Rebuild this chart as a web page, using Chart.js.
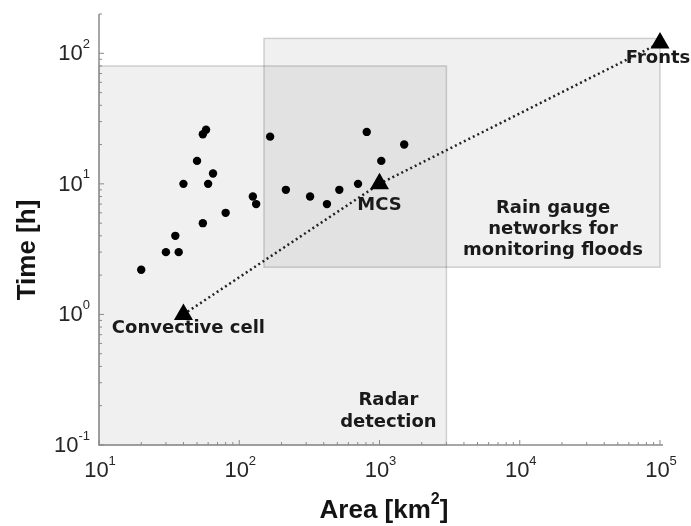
<!DOCTYPE html>
<html>
<head>
<meta charset="utf-8">
<script src="https://cdn.jsdelivr.net/npm/chart.js@4/dist/chart.umd.min.js"></script>
<style>
  body { margin: 0; background: #fff; }
</style>
</head>
<body>
<canvas id="chart" width="691" height="526"></canvas>
<script>
// Observed events (area in km2, duration in h)
const areaKm2 = [20, 30, 37, 35, 55, 80, 40, 60, 65, 50, 55, 58, 125, 132, 166, 215, 320, 422, 517, 703, 811, 1030, 1500];
const timeH = [2.2, 3, 3, 4, 5, 6, 10, 10, 12, 15, 24, 26, 8, 7, 23, 9, 8, 7, 9, 10, 25, 15, 20];

// Typical phenomena
const phenomena = ['Convective cell', 'MCS', 'Fronts'];
const phenArea = [40, 1000, 100000];
const phenTime = [1, 10, 120];

// Observation regions
const radarArea = [10, 3000];
const radarTime = [0.1, 80];
const gaugeArea = [150, 100000];
const gaugeTime = [2.3, 130];

// Axis ticks
const xTicks = [10, 100, 1000, 10000, 100000];
const yTicks = [0.1, 1, 10, 100];
const xExp = ['1', '2', '3', '4', '5'];
const yExp = ['-1', '0', '1', '2'];

const LABEL_FONT = '"Liberation Sans", Arial, sans-serif';
const NOTE_FONT = 'bold 18px "DejaVu Sans", Verdana, sans-serif';

function drawPow(ctx, exp, x, y, align) {
    ctx.font = '22px ' + LABEL_FONT;
    const wb = ctx.measureText('10').width;
    ctx.font = '13px ' + LABEL_FONT;
    const we = ctx.measureText(exp).width;
    const left = align === 'right' ? x - wb - we : x - (wb + we) / 2;
    ctx.textAlign = 'left';
    ctx.textBaseline = 'middle';
    ctx.font = '22px ' + LABEL_FONT;
    ctx.fillText('10', left, y);
    ctx.font = '13px ' + LABEL_FONT;
    ctx.fillText(exp, left + wb, y - 10);
}

const decor = {
    id: 'decor',
    beforeDatasetsDraw(chart) {
        const { ctx, scales: { x, y } } = chart;
        ctx.save();
        [[radarArea, radarTime], [gaugeArea, gaugeTime]].forEach(([a, t]) => {
            const x0 = x.getPixelForValue(a[0]), x1 = x.getPixelForValue(a[1]);
            const y0 = y.getPixelForValue(t[1]), y1 = y.getPixelForValue(t[0]);
            ctx.fillStyle = 'rgba(0,0,0,0.06)';
            ctx.fillRect(x0, y0, x1 - x0, y1 - y0);
            ctx.strokeStyle = 'rgba(0,0,0,0.17)';
            ctx.lineWidth = 1.5;
            ctx.strokeRect(x0, y0, x1 - x0, y1 - y0);
        });
        ctx.restore();
    },
    afterDatasetsDraw(chart) {
        const { ctx, chartArea: ca, scales: { x, y } } = chart;
        ctx.save();

        // axes lines
        ctx.strokeStyle = '#8a8a8a';
        ctx.lineWidth = 1.5;
        ctx.beginPath();
        ctx.moveTo(ca.left, ca.top);
        ctx.lineTo(ca.left, ca.bottom);
        ctx.lineTo(ca.right + 3, ca.bottom);
        ctx.stroke();

        // inward ticks, major and minor
        ctx.lineWidth = 1;
        ctx.beginPath();
        xTicks.forEach((v, i) => {
            for (let m = 1; m <= 9; m++) {
                if (i === xTicks.length - 1 && m > 1) break;
                const px = x.getPixelForValue(v * m);
                const len = m === 1 ? 5 : 3;
                ctx.moveTo(px, ca.bottom);
                ctx.lineTo(px, ca.bottom - len);
            }
        });
        yTicks.forEach((v) => {
            for (let m = 1; m <= 9; m++) {
                if (v * m > y.max) break;
                const py = y.getPixelForValue(v * m);
                const len = m === 1 ? 5 : 3;
                ctx.moveTo(ca.left, py);
                ctx.lineTo(ca.left + len, py);
            }
        });
        ctx.stroke();

        // tick labels
        ctx.fillStyle = '#262626';
        xTicks.forEach((v, i) => drawPow(ctx, xExp[i], x.getPixelForValue(v) + 1, ca.bottom + 26, 'center'));
        yTicks.forEach((v, i) => drawPow(ctx, yExp[i], ca.left - 9, y.getPixelForValue(v) + 1, 'right'));

        // axis titles
        ctx.fillStyle = '#141414';
        ctx.font = 'bold 26px ' + LABEL_FONT;
        ctx.textBaseline = 'middle';
        ctx.save();
        ctx.translate(28, 250);
        ctx.rotate(-Math.PI / 2);
        ctx.textAlign = 'center';
        ctx.fillText('Time [h]', 0, 0);
        ctx.restore();

        const t1 = 'Area [km', t2 = '2', t3 = ']';
        ctx.font = 'bold 26px ' + LABEL_FONT;
        const w1 = ctx.measureText(t1).width, w3 = ctx.measureText(t3).width;
        ctx.font = 'bold 16px ' + LABEL_FONT;
        const w2 = ctx.measureText(t2).width;
        let left = 384 - (w1 + w2 + w3) / 2;
        ctx.textAlign = 'left';
        ctx.font = 'bold 26px ' + LABEL_FONT;
        ctx.fillText(t1, left, 511);
        ctx.fillText(t3, left + w1 + w2, 511);
        ctx.font = 'bold 16px ' + LABEL_FONT;
        ctx.fillText(t2, left + w1, 500);

        // annotations
        ctx.fillStyle = '#1a1a1a';
        ctx.font = NOTE_FONT;
        ctx.textAlign = 'center';
        ctx.textBaseline = 'middle';
        const notes = [[5, 14], [0, 21], [-2, 15]];
        phenomena.forEach((name, i) => {
            ctx.fillText(name,
                x.getPixelForValue(phenArea[i]) + notes[i][0],
                y.getPixelForValue(phenTime[i]) + notes[i][1]);
        });

        const rx = x.getPixelForValue(radarArea[1]) - 58;
        const ry = y.getPixelForValue(radarTime[0]);
        ctx.fillText('Radar', rx, ry - 45);
        ctx.fillText('detection', rx, ry - 23);

        const gx = x.getPixelForValue(gaugeArea[1]) - 107;
        const gy = y.getPixelForValue(gaugeTime[0]);
        ctx.fillText('Rain gauge', gx, gy - 59);
        ctx.fillText('networks for', gx, gy - 38);
        ctx.fillText('monitoring floods', gx, gy - 17);

        ctx.restore();
    }
};

new Chart(document.getElementById('chart'), {
    type: 'scatter',
    data: {
        datasets: [
            {
                label: 'Phenomena',
                data: phenArea.map((a, i) => ({ x: a, y: phenTime[i] })),
                showLine: true,
                clip: false,
                borderColor: '#222',
                borderWidth: 2.5,
                borderDash: [2, 3],
                pointStyle: 'triangle',
                pointRadius: 11,
                pointBackgroundColor: '#000',
                pointBorderColor: '#000',
                pointBorderWidth: 0
            },
            {
                label: 'Events',
                data: areaKm2.map((a, i) => ({ x: a, y: timeH[i] })),
                pointRadius: 4.2,
                pointBackgroundColor: '#000',
                pointBorderColor: '#000',
                pointBorderWidth: 0
            }
        ]
    },
    options: {
        responsive: false,
        animation: false,
        layout: { padding: { left: 99, right: 31, top: 14, bottom: 81 } },
        plugins: {
            legend: { display: false },
            tooltip: { enabled: false }
        },
        scales: {
            x: { type: 'logarithmic', min: 10, max: 100000, display: false },
            y: { type: 'logarithmic', min: 0.1, max: 200, display: false }
        }
    },
    plugins: [decor]
});
</script>
</body>
</html>
